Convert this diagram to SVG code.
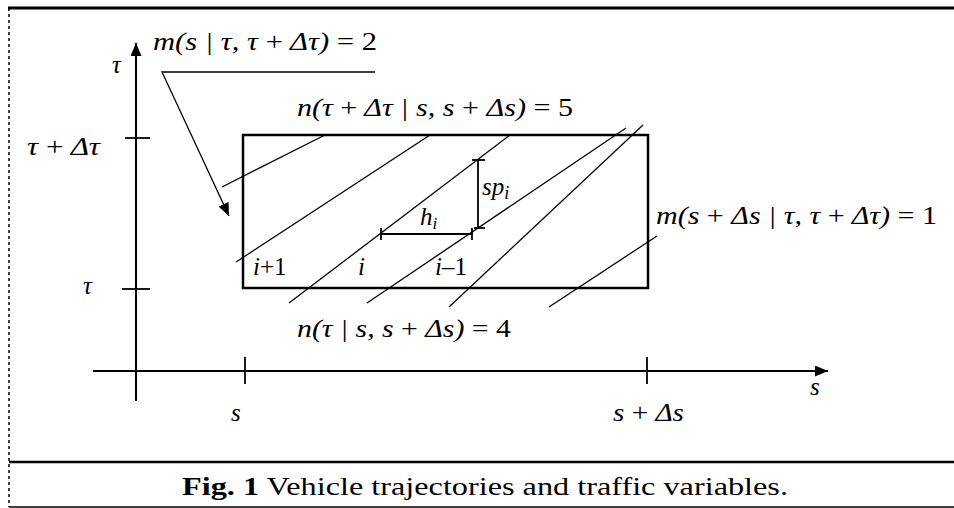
<svg xmlns="http://www.w3.org/2000/svg" width="954" height="508" viewBox="0 0 954 508">
<style>
text{font-family:'Liberation Serif','Times New Roman',serif;fill:#000}
.t{font-size:25px;font-style:italic}
.u{font-style:normal}
.traj{stroke:#000;stroke-width:1.3;fill:none}
.ax{stroke:#000;stroke-width:2;fill:none}
.tk{stroke:#000;stroke-width:1.8;fill:none}
.cap{font-size:26px}
</style>
<defs>
<marker id="ah" markerUnits="userSpaceOnUse" markerWidth="13" markerHeight="11" refX="13" refY="5.5" orient="auto">
<path d="M0,0 L13,5.5 L0,11 z" fill="#000"/>
</marker>
</defs>
<rect width="954" height="508" fill="#fff"/>
<g id="frame">
<line x1="8" y1="8" x2="954" y2="8" stroke="#000" stroke-width="3"/>
<line x1="9" y1="8" x2="9" y2="507" stroke="#000" stroke-width="1.5" stroke-dasharray="3,3"/>
<line x1="9" y1="462" x2="954" y2="462" stroke="#000" stroke-width="2.5"/>
<line x1="9" y1="507" x2="954" y2="507" stroke="#000" stroke-width="1.5"/>
</g>
<g id="axes">
<line class="ax" x1="136" y1="401" x2="136" y2="43" marker-end="url(#ah)"/>
<line class="ax" x1="93" y1="371" x2="828" y2="371" marker-end="url(#ah)"/>
<line class="tk" x1="125" y1="138" x2="150" y2="138"/>
<line class="tk" x1="122" y1="289" x2="150" y2="289"/>
<line class="tk" x1="245" y1="357" x2="245" y2="384"/>
<line class="tk" x1="647" y1="357" x2="647" y2="384"/>
</g>
<g id="box">
<rect x="243" y="135" width="405" height="153" fill="none" stroke="#000" stroke-width="2.5"/>
</g>
<g id="connectors">
<line class="traj" x1="222" y1="187" x2="325" y2="135"/>
<line class="traj" x1="236" y1="262" x2="430" y2="135"/>
<line class="traj" x1="289" y1="303" x2="510" y2="135"/>
<line class="traj" x1="367" y1="303" x2="626" y2="128"/>
<line class="traj" x1="449" y1="307" x2="643" y2="125"/>
<line class="traj" x1="549" y1="307" x2="657" y2="236"/>
<polyline class="traj" points="375,72 162,72 229,216" marker-end="url(#ah)"/>
<line class="tk" x1="381" y1="234" x2="472" y2="234"/>
<line class="tk" x1="381" y1="228" x2="381" y2="240"/>
<line class="tk" x1="472" y1="228" x2="472" y2="240"/>
<line class="tk" x1="478" y1="160" x2="478" y2="228"/>
<line class="tk" x1="472" y1="160" x2="485" y2="160"/>
<line class="tk" x1="474" y1="228" x2="485" y2="228"/>
</g>
<g id="labels" font-family="Liberation Serif">
<text class="t" x="153" y="50" textLength="224" lengthAdjust="spacingAndGlyphs">m(s | τ, τ <tspan class="u">+</tspan> Δτ) <tspan class="u">= 2</tspan></text>
<text class="t" x="297" y="116" textLength="276" lengthAdjust="spacingAndGlyphs">n(τ <tspan class="u">+</tspan> Δτ | s, s <tspan class="u">+</tspan> Δs) <tspan class="u">= 5</tspan></text>
<text class="t" x="656" y="224" textLength="281" lengthAdjust="spacingAndGlyphs">m(s <tspan class="u">+</tspan> Δs | τ, τ <tspan class="u">+</tspan> Δτ) <tspan class="u">= 1</tspan></text>
<text class="t" x="297" y="337" textLength="214" lengthAdjust="spacingAndGlyphs">n(τ | s, s <tspan class="u">+</tspan> Δs) <tspan class="u">= 4</tspan></text>
<text class="t" x="27" y="155" textLength="73" lengthAdjust="spacingAndGlyphs">τ <tspan class="u">+</tspan> Δτ</text>
<text class="t" x="112" y="73">τ</text>
<text class="t" x="83" y="294">τ</text>
<text class="t" x="810" y="395">s</text>
<text class="t" x="231" y="421">s</text>
<text class="t" x="613" y="421" textLength="71" lengthAdjust="spacingAndGlyphs">s <tspan class="u">+</tspan> Δs</text>
<text class="t" x="253" y="275">i<tspan class="u">+1</tspan></text>
<text class="t" x="358" y="275">i</text>
<text class="t" x="435" y="275">i<tspan class="u">–1</tspan></text>
<text class="t" x="420" y="225">h<tspan font-size="17" dy="4">i</tspan></text>
<text class="t" x="482" y="195" font-size="27">sp<tspan font-size="18" dy="4">i</tspan></text>
<text class="cap" x="182" y="495" textLength="606" lengthAdjust="spacingAndGlyphs"><tspan font-weight="bold">Fig. 1</tspan> Vehicle trajectories and traffic variables.</text>
</g>
</svg>
